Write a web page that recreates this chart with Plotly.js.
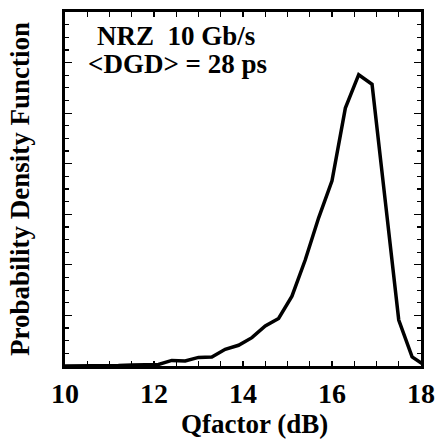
<!DOCTYPE html>
<html>
<head>
<meta charset="utf-8">
<script src="https://cdn.plot.ly/plotly-3.0.1.min.js"></script>
<style>html,body{margin:0;padding:0;background:#fff;}#chart{width:437px;height:439px;}</style>
</head>
<body>
<div id="chart"></div>
<script>
const qfactor = [10.0, 10.3, 10.6, 10.9, 11.2, 11.5, 11.8, 12.1, 12.4, 12.7, 13.0, 13.3, 13.6, 13.9,
                 14.2, 14.5, 14.8, 15.1, 15.4, 15.7, 16.0, 16.3, 16.6, 16.9, 17.2, 17.5, 17.8, 18.1];
const pdf = [0, 0, 0, 0.01, 0.01, 0.02, 0.02, 0.03, 0.11, 0.10, 0.17, 0.18, 0.33, 0.41,
             0.56, 0.79, 0.94, 1.38, 2.10, 2.93, 3.66, 5.10, 5.76, 5.57, 3.24, 0.91, 0.18, 0.0];
const xTickVals = [10, 12, 14, 16, 18];
const xTickText = ['<b>10</b>', '<b>12</b>', '<b>14</b>', '<b>16</b>', '<b>18</b>'];
const label1 = '<b>NRZ\u00a0\u00a010 Gb/s</b>';
const label2 = '<b>&lt;DGD&gt; = 28 ps</b>';
const xTitle = '<b>Qfactor (dB)</b>';
const yTitle = '<b>Probability Density Function</b>';

function f(size) { return {size: size, family: 'Liberation Serif', color: '#000'}; }

const trace = {
  x: qfactor, y: pdf, type: 'scatter', mode: 'lines',
  line: {color: '#000', width: 3.5}, hoverinfo: 'skip'
};

const layout = {
  width: 437, height: 439,
  margin: {l: 65, r: 16, t: 12, b: 73},
  paper_bgcolor: '#fff', plot_bgcolor: '#fff',
  showlegend: false,
  font: f(20),
  xaxis: {
    range: [10, 18], tickvals: xTickVals, ticktext: xTickText,
    ticks: 'inside', ticklen: 5, tickwidth: 1.2, tickcolor: '#000',
    minor: {dtick: 0.5, ticks: 'inside', ticklen: 5, tickwidth: 1.2, tickcolor: '#000'},
    showline: true, linewidth: 3, linecolor: '#000', mirror: 'ticks',
    showgrid: false, zeroline: false,
    tickfont: f(28),
    ticklabelstandoff: 0
  },
  yaxis: {
    range: [0, 7], dtick: 1, showticklabels: false,
    ticks: 'inside', ticklen: 7, tickwidth: 1.2, tickcolor: '#000',
    minor: {dtick: 0.25, ticks: 'inside', ticklen: 4, tickwidth: 1.2, tickcolor: '#000'},
    showline: true, linewidth: 3, linecolor: '#000', mirror: 'ticks',
    showgrid: false, zeroline: false,
    title: {text: yTitle, font: f(27), standoff: 25}
  },
  annotations: [
    {text: label1, xref: 'x', yref: 'y', x: 12.49, y: 6.52, xanchor: 'center', yanchor: 'middle',
     showarrow: false, font: f(27)},
    {text: label2, xref: 'x', yref: 'y', x: 12.52, y: 5.98, xanchor: 'center', yanchor: 'middle',
     showarrow: false, font: f(27)},
    {text: xTitle, xref: 'paper', yref: 'paper', x: (254 - 65) / 356, y: -0.165,
     xanchor: 'center', yanchor: 'middle', showarrow: false, font: f(27)}
  ]
};

Plotly.newPlot('chart', [trace], layout, {displayModeBar: false, staticPlot: true});
</script>
</body>
</html>
